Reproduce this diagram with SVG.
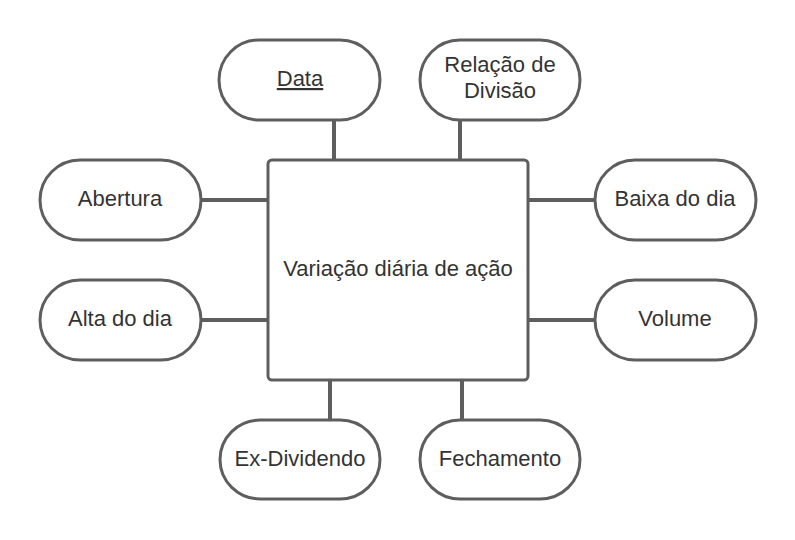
<svg xmlns="http://www.w3.org/2000/svg" width="795" height="540" viewBox="0 0 795 540">
<style>
.n{fill:#fff;stroke:#5e5e5e;stroke-width:3}
.t{font-family:"Liberation Sans",Arial,sans-serif;font-size:22px;fill:#333;text-anchor:middle}
.c{stroke:#5e5e5e;stroke-width:4;fill:none}
</style>
<rect width="795" height="540" fill="#fff"/>
<g id="connectors">
<line class="c" x1="334" y1="120" x2="334" y2="160"/>
<line class="c" x1="460" y1="120" x2="460" y2="160"/>
<line class="c" x1="200" y1="200" x2="268" y2="200"/>
<line class="c" x1="200" y1="320" x2="268" y2="320"/>
<line class="c" x1="528" y1="200" x2="595" y2="200"/>
<line class="c" x1="528" y1="320" x2="595" y2="320"/>
<line class="c" x1="330" y1="380" x2="330" y2="420"/>
<line class="c" x1="462" y1="380" x2="462" y2="420"/>
</g>
<g id="center">
<rect class="n" x="268" y="160" width="260" height="220" rx="4"/>
<text class="t" x="398" y="276">Variação diária de ação</text>
</g>
<g id="data">
<rect class="n" x="219" y="40" width="161" height="80" rx="40"/>
<text class="t" x="300" y="86" text-decoration="underline">Data</text>
</g>
<g id="relacao">
<rect class="n" x="420" y="40" width="160" height="80" rx="40"/>
<text class="t" x="500" y="72">Relação de</text>
<text class="t" x="500" y="98">Divisão</text>
</g>
<g id="abertura">
<rect class="n" x="40" y="160" width="161" height="80" rx="40"/>
<text class="t" x="120" y="206">Abertura</text>
</g>
<g id="alta">
<rect class="n" x="40" y="280" width="161" height="80" rx="40"/>
<text class="t" x="120" y="326">Alta do dia</text>
</g>
<g id="baixa">
<rect class="n" x="595" y="160" width="161" height="80" rx="40"/>
<text class="t" x="675" y="206">Baixa do dia</text>
</g>
<g id="volume">
<rect class="n" x="595" y="280" width="161" height="80" rx="40"/>
<text class="t" x="675" y="326">Volume</text>
</g>
<g id="exdividendo">
<rect class="n" x="220" y="420" width="160" height="79" rx="40"/>
<text class="t" x="300" y="466">Ex-Dividendo</text>
</g>
<g id="fechamento">
<rect class="n" x="420" y="420" width="160" height="79" rx="40"/>
<text class="t" x="500" y="466">Fechamento</text>
</g>
</svg>
